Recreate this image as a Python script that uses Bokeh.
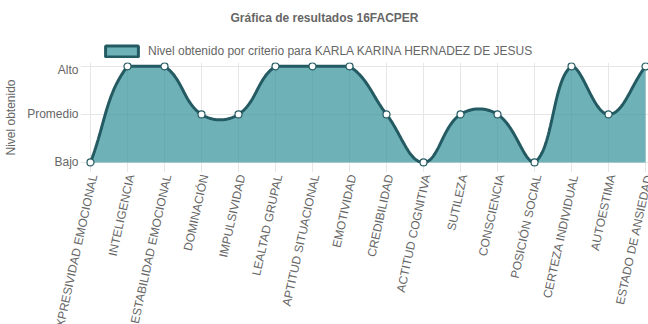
import numpy as np
from bokeh.plotting import figure
from bokeh.layouts import column
from bokeh.models import Range1d, FixedTicker, Legend, LegendItem
from bokeh.core.properties import value
from bokeh.embed import file_html
from bokeh.resources import INLINE

criterios = ["EXPRESIVIDAD EMOCIONAL", "INTELIGENCIA", "ESTABILIDAD EMOCIONAL",
             "DOMINACIÓN", "IMPULSIVIDAD", "LEALTAD GRUPAL", "APTITUD SITUACIONAL",
             "EMOTIVIDAD", "CREDIBILIDAD", "ACTITUD COGNITIVA", "SUTILEZA",
             "CONSCIENCIA", "POSICIÓN SOCIAL", "CERTEZA INDIVIDUAL", "AUTOESTIMA",
             "ESTADO DE ANSIEDAD"]
niveles = [0, 2, 2, 1, 1, 2, 2, 2, 1, 0, 1, 1, 0, 2, 1, 2]
nivel_labels = {0: "Bajo", 1: "Promedio", 2: "Alto"}
serie = "Nivel obtenido por criterio para KARLA KARINA HERNADEZ DE JESUS"
titulo = "Gráfica de resultados 16FACPER"

LINE = "#245a62"
FILL = "#31929a"
GRID = "#e6e6e6"
TXT = "#666666"
FONT = "Liberation Sans"

W = 648
TOP_H, MAIN_H, BOT_H = 62, 110, 152
LEFT = 80

n = len(criterios)
xs = np.arange(n, dtype=float)
ys = np.array(niveles, dtype=float)

X0, X1 = -0.27, 15.08
Y0, Y1 = -0.21, 2.08
SX = (W - LEFT) / (X1 - X0)
SY = MAIN_H / (Y1 - Y0)

# Chart.js style bezier control points (tension 0.4), capped to chart area
P = np.column_stack([xs * SX, ys * SY])
cp_prev = np.zeros_like(P)
cp_next = np.zeros_like(P)
t = 0.4
for i in range(n):
    prev = P[max(i - 1, 0)]
    cur = P[i]
    nxt = P[min(i + 1, n - 1)]
    d01 = float(np.hypot(*(cur - prev)))
    d12 = float(np.hypot(*(nxt - cur)))
    tot = d01 + d12
    s01 = d01 / tot if tot > 0 else 0.0
    s12 = d12 / tot if tot > 0 else 0.0
    cp_prev[i] = cur - t * s01 * (nxt - prev)
    cp_next[i] = cur + t * s12 * (nxt - prev)
for cp in (cp_prev, cp_next):
    cp[:, 0] = np.clip(cp[:, 0], 0, (n - 1) * SX)
    cp[:, 1] = np.clip(cp[:, 1], 0, 2 * SY)

cx, cy = [], []
tt = np.linspace(0, 1, 40)
for i in range(n - 1):
    p0, p1, p2, p3 = P[i], cp_next[i], cp_prev[i + 1], P[i + 1]
    b = ((1 - tt) ** 3)[:, None] * p0 + (3 * (1 - tt) ** 2 * tt)[:, None] * p1 + \
        (3 * (1 - tt) * tt ** 2)[:, None] * p2 + (tt ** 3)[:, None] * p3
    if i > 0:
        b = b[1:]
    cx.extend((b[:, 0] / SX).tolist())
    cy.extend((b[:, 1] / SY).tolist())

def bare_fig(h, xr, yr):
    fig = figure(width=W, height=h, output_backend="svg", toolbar_location=None,
                 x_range=xr, y_range=yr, x_axis_location=None, y_axis_location=None,
                 min_border_left=0, min_border_right=0, min_border_top=0,
                 min_border_bottom=0, frame_align=False)
    fig.outline_line_color = None
    fig.grid.visible = False
    return fig

# ---------- top: title + legend ----------
top = bare_fig(TOP_H, Range1d(0, W), Range1d(0, TOP_H))
top.text(x=[W / 2], y=[TOP_H - 17], text=[titulo], text_align="center",
         text_baseline="middle", text_font=value(FONT), text_font_size="12px",
         text_font_style="bold", text_color=TXT)
proxy = top.patch([np.nan], [np.nan], fill_color=FILL, fill_alpha=0.7,
                  line_color=LINE, line_width=3)
legend = Legend(items=[LegendItem(label=serie, renderers=[proxy])],
                orientation="horizontal", location=(101, 4),
                glyph_width=41, glyph_height=14, label_standoff=6,
                label_text_font=FONT, label_text_font_size="12px",
                label_text_color=TXT, border_line_color=None,
                background_fill_alpha=0, padding=0, margin=0, spacing=0,
                label_height=14)
top.add_layout(legend)

# ---------- main chart ----------
p = figure(width=W, height=MAIN_H, output_backend="svg", toolbar_location=None,
           x_range=Range1d(X0, X1), y_range=Range1d(Y0, Y1),
           min_border_left=LEFT, min_border_right=0, min_border_top=0,
           min_border_bottom=0, frame_align=False)
p.outline_line_color = None
p.xaxis.visible = False
p.xgrid.ticker = FixedTicker(ticks=list(range(n)))
p.xgrid.bounds = (Y0, 2)
p.xgrid.grid_line_color = GRID
p.ygrid.ticker = FixedTicker(ticks=[0, 1, 2])
p.ygrid.bounds = (X0, n - 1)
p.ygrid.grid_line_color = GRID

ya = p.yaxis[0]
ya.ticker = FixedTicker(ticks=[0, 1, 2])
ya.major_label_overrides = nivel_labels
ya.axis_line_color = None
ya.major_tick_line_color = None
ya.minor_tick_line_color = None
ya.major_tick_out = 0
ya.major_tick_in = 0
ya.major_label_standoff = 2
ya.major_label_text_font = FONT
ya.major_label_text_font_size = "12px"
ya.major_label_text_color = TXT
ya.axis_label = "Nivel obtenido"
ya.axis_label_text_font = FONT
ya.axis_label_text_font_size = "12px"
ya.axis_label_text_font_style = "normal"
ya.axis_label_text_color = TXT
ya.axis_label_standoff = 6

p.varea(x=cx, y1=[0.0] * len(cx), y2=cy, fill_color=FILL, fill_alpha=0.7)
p.line(cx, cy, line_color=LINE, line_width=3)
p.scatter(xs.tolist(), ys.tolist(), size=7, fill_color="white",
          line_color=LINE, line_width=1.2)

# ---------- bottom: rotated category labels ----------
bot = bare_fig(BOT_H, Range1d(X0 - LEFT / SX, X1), Range1d(0, BOT_H))
bot.text(x=xs.tolist(), y=[BOT_H - 2] * n, text=criterios, angle=1.353,
         x_offset=3, text_align="right", text_baseline="middle",
         text_font=value(FONT), text_font_size="12px", text_color=TXT)

layout = column(top, p, bot, spacing=0)
open("out.html", "w").write(file_html(layout, INLINE))
